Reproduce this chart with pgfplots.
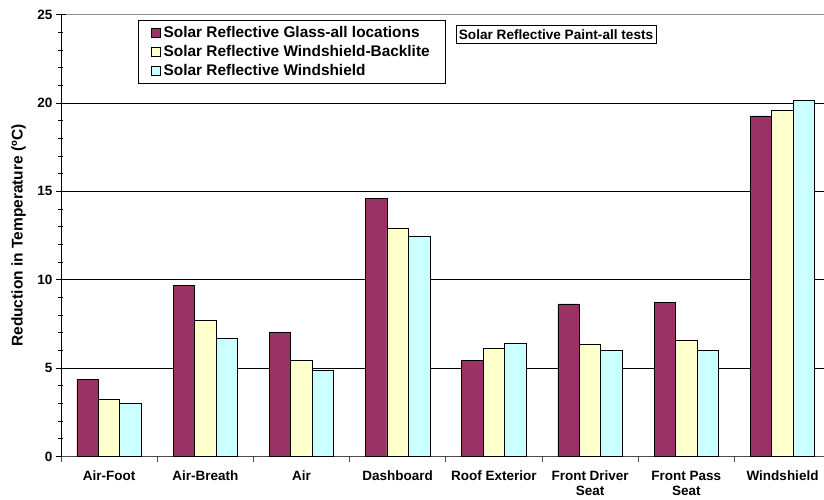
\documentclass[border=0pt]{standalone}
\usepackage{pgfplots}
\pgfplotsset{compat=1.18}
\usepackage{fontspec}
\setmainfont{Liberation Sans}
\definecolor{cP}{HTML}{993366}
\definecolor{cY}{HTML}{FFFFCC}
\definecolor{cC}{HTML}{CCFFFF}
\pgfplotsset{sq/.style={legend image code/.code={\draw[##1, line width=0.8pt] (0pt,-4.5pt) rectangle (9pt,4.5pt);}}}
\begin{document}
\begin{tikzpicture}
\begin{axis}[
  name=ax, at={(0pt,0pt)}, anchor=south west,
  scale only axis, width=763pt, height=441.8pt,
  xmin=-0.5, xmax=7.431, ymin=0, ymax=25,
  ybar=0pt, bar width=0.223,
  separate axis lines,
  axis x line*=bottom, axis y line*=left,
  x axis line style={-, draw=black!70, line width=1pt},
  y axis line style={-, draw=black, line width=0.8pt},
  xtick={0,...,7},
  xticklabels={Air-Foot,Air-Breath,Air,Dashboard,Roof Exterior,Front Driver\\Seat,Front Pass\\Seat,Windshield},
  xticklabel style={align=center, font=\fontsize{13.5}{15}\selectfont\bfseries, yshift=-6pt},
  minor xtick={-0.5,0.5,...,7.5},
  major x tick style={draw=none},
  minor x tick style={draw=black!70, line width=0.8pt, yshift=-3pt},
  ytick={0,5,...,20},
  minor ytick={1,2,3,4,6,7,8,9,11,12,13,14,16,17,18,19,21,22,23,24},
  extra y ticks={25},
  extra y tick style={grid style={draw=black!45, line width=1pt}},
  yticklabel style={font=\fontsize{13.5}{16}\selectfont\bfseries},
  /pgf/number format/assume math mode=true,
  tick align=center,
  major tick length=10pt, minor tick length=5pt,
  y tick style={draw=black, line width=0.8pt},
  ymajorgrids,
  grid style={draw=black, line width=0.8pt},
  ylabel={Reduction in Temperature (ºC)},
  ylabel style={at={(axis description cs:-0.0557,0.5)}, anchor=center, rotate=0, font=\fontsize{15.5}{18}\selectfont\bfseries},
  legend style={at={(axis description cs:0.1009,0.988)}, anchor=north west,
    draw=black, line width=0.8pt, font=\fontsize{15.4}{18}\selectfont\bfseries,
    cells={anchor=west}, inner xsep=13pt, inner ysep=4pt, row sep=2.5pt,
    nodes={inner xsep=2.5pt}},
]
\addplot[fill=cP, draw=black, line width=0.8pt, sq] coordinates {(0,4.38) (1,9.69) (2,7.03) (3,14.6) (4,5.42) (5,8.63) (6,8.71) (7,19.27)};
\addplot[fill=cY, draw=black, line width=0.8pt, sq] coordinates {(0,3.21) (1,7.71) (2,5.46) (3,12.9) (4,6.10) (5,6.37) (6,6.59) (7,19.57)};
\addplot[fill=cC, draw=black, line width=0.8pt, sq] coordinates {(0,3.02) (1,6.67) (2,4.86) (3,12.45) (4,6.39) (5,6.01) (6,6.03) (7,20.16)};
\legend{Solar Reflective Glass-all locations,Solar Reflective Windshield-Backlite,Solar Reflective Windshield}
\node[draw=black, line width=0.8pt, font=\fontsize{13.6}{16}\selectfont\bfseries, inner xsep=3pt, inner ysep=4pt, fill=white] at (axis description cs:0.6488,0.955) {Solar Reflective Paint-all tests};
\end{axis}
\pgfresetboundingbox
\path[use as bounding box] (-61pt,-42.5pt) rectangle (763pt,456.5pt);
\end{tikzpicture}
\end{document}
